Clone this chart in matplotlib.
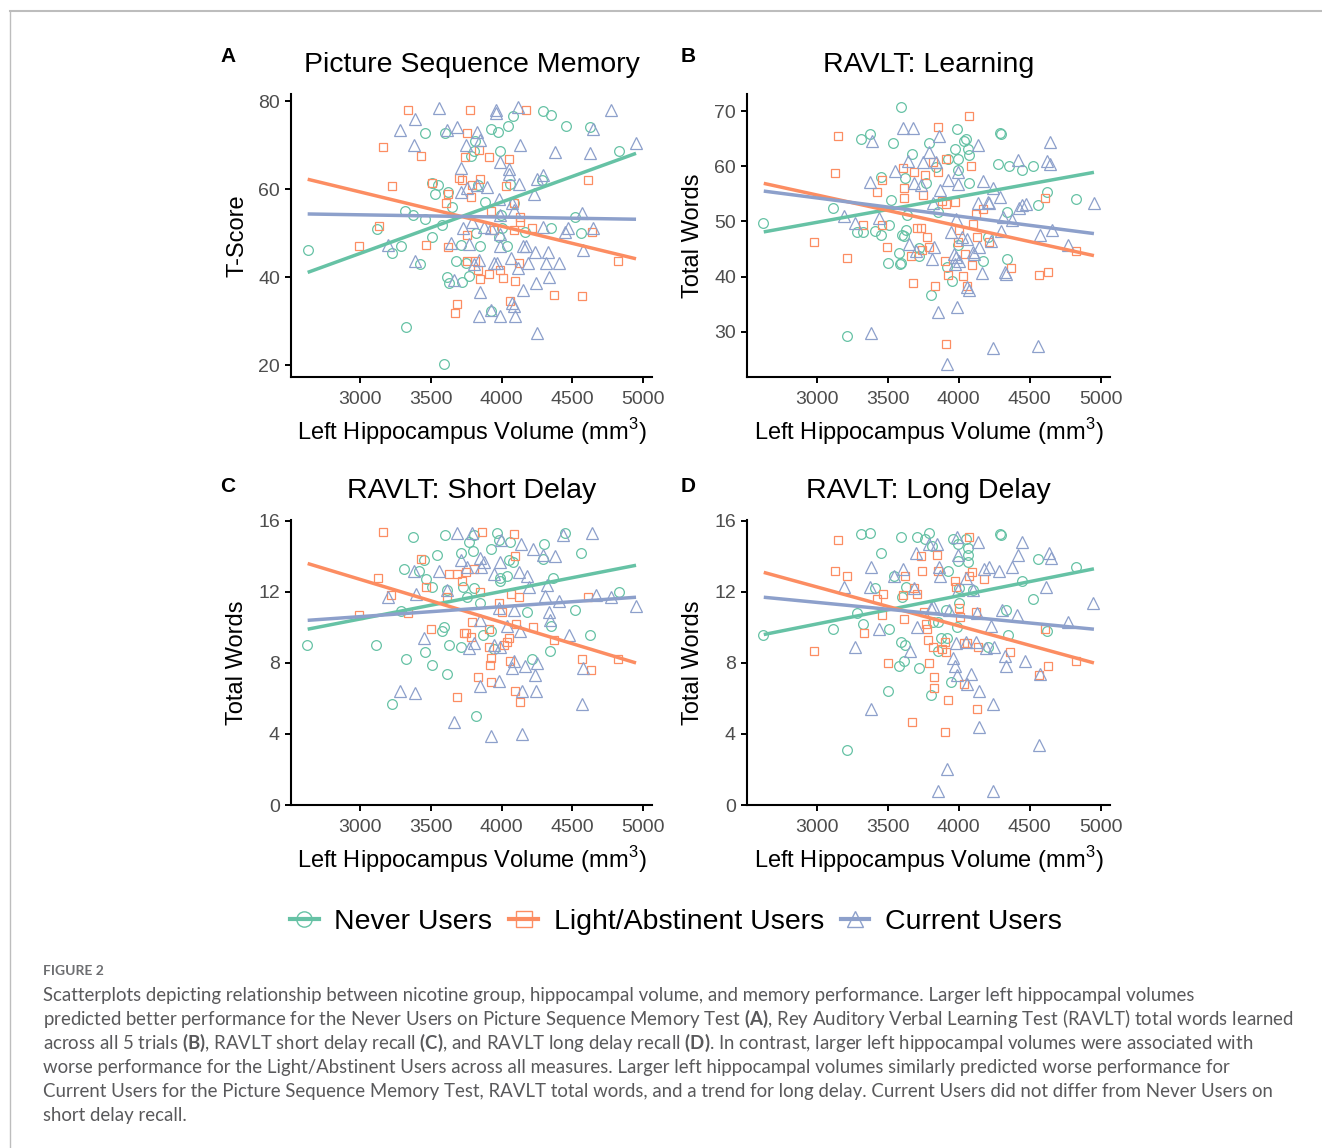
import matplotlib
matplotlib.use("Agg")
import matplotlib.pyplot as plt
from matplotlib.lines import Line2D

# ---- data: (left hippocampus volume, score) ----
A_NEVER = [(2631, 46.2), (3117, 50.9), (3225, 45.6), (3288, 47.0), (3316, 55.1), (3377, 54.1),
           (3424, 43.1), (3457, 72.9), (3457, 53.2), (3509, 49.2), (3511, 61.5), (3527, 59.0),
           (3551, 60.9), (3579, 51.9), (3598, 72.8), (3617, 40.0), (3628, 38.8), (3624, 59.4),
           (3652, 56.0), (3680, 43.8), (3710, 47.3), (3722, 38.9), (3746, 43.2), (3769, 40.2),
           (3781, 67.5), (3804, 68.7), (3809, 71.1), (3837, 60.9), (3851, 47.0), (3818, 50.0),
           (3884, 57.2), (3922, 73.7), (3922, 32.4), (3973, 73.0), (3980, 49.2), (3992, 68.7),
           (3997, 54.1), (4001, 51.3), (4039, 47.0), (4044, 74.5), (4062, 61.3), (4079, 76.8),
           (4086, 56.8), (4168, 50.4), (4297, 77.9), (4290, 62.2), (4349, 77.0), (4349, 51.1),
           (4454, 74.5), (4520, 53.8), (4560, 50.1), (4626, 74.1), (4830, 68.7), (3325, 28.7),
           (3593, 20.2)]
A_LIGHT = [(2988, 47.1), (3135, 51.7), (3159, 69.6), (3222, 60.7), (3340, 78.0), (3429, 67.7),
           (3469, 47.3), (3506, 61.5), (3621, 46.8), (3624, 59.0), (3609, 56.9), (3687, 33.9),
           (3668, 31.9), (3701, 62.6), (3722, 62.1), (3739, 67.3), (3755, 72.9), (3757, 49.6),
           (3757, 43.6), (3778, 78.1), (3781, 58.3), (3788, 60.9), (3809, 43.8), (3844, 69.0),
           (3851, 62.4), (3849, 39.6), (3837, 41.7), (3910, 67.3), (3910, 40.7), (3945, 50.7),
           (3926, 55.1), (3992, 41.7), (4011, 39.8), (4034, 60.8), (4051, 67.0), (4062, 34.7),
           (4086, 57.0), (4098, 39.1), (4121, 43.2), (4133, 53.8), (4133, 52.6), (4175, 78.1),
           (4215, 51.1), (4368, 36.0), (4569, 35.7), (4614, 62.1), (4637, 50.4), (4825, 43.7),
           (4086, 50.7)]
A_CURRENT = [(3199, 47.3), (3281, 73.5), (3382, 70.1), (3391, 76.0), (3391, 43.6), (3558, 78.6),
             (3617, 73.4), (3687, 74.3), (3710, 64.9), (3746, 70.0), (3828, 73.0), (3851, 71.3),
             (3710, 59.4), (3640, 47.7), (3663, 39.3), (3769, 47.6), (3804, 43.0), (3844, 44.0),
             (3846, 36.7), (3844, 31.1), (3922, 32.6), (3964, 78.0), (3964, 77.3), (3992, 31.1),
             (3992, 66.2), (4051, 64.7), (4051, 63.6), (4121, 61.3), (4116, 78.8), (4133, 70.1),
             (4093, 31.1), (4074, 34.2), (4086, 33.4), (4069, 44.3), (4116, 42.1), (4149, 37.2),
             (4154, 47.1), (4175, 47.1), (4184, 43.2), (4245, 38.8), (4238, 45.8), (4248, 27.4),
             (4250, 62.4), (4297, 63.2), (4227, 59.0), (4332, 45.8), (4339, 40.0), (4316, 43.2),
             (4297, 51.5), (4379, 68.6), (4410, 43.2), (4450, 50.4), (4473, 51.3), (4567, 54.7),
             (4579, 46.1), (4626, 68.2), (4649, 73.7), (4649, 51.1), (4778, 78.0), (4954, 70.5),
             (3992, 54.1), (3992, 49.8), (3969, 43.2), (3950, 43.2), (3987, 47.1), (3729, 51.3),
             (3793, 52.6), (3875, 51.5), (3922, 51.3), (3757, 60.4), (3828, 60.9), (3898, 60.5),
             (3980, 57.9), (4074, 56.8), (4086, 55.3)]

B_NEVER = [(2625, 49.8), (3113, 52.4), (3213, 29.2), (3281, 48.1), (3312, 64.9), (3324, 48.1),
           (3375, 65.8), (3413, 48.3), (3450, 58.1), (3453, 47.6), (3511, 49.4), (3523, 53.9),
           (3539, 64.2), (3577, 44.2), (3591, 42.4), (3593, 70.8), (3598, 47.5), (3617, 47.3),
           (3619, 57.8), (3626, 48.4), (3638, 51.1), (3671, 62.2), (3722, 45.2), (3718, 43.8),
           (3769, 57.0), (3793, 64.2), (3804, 36.6), (3840, 59.8), (3854, 51.7), (3915, 41.7),
           (3922, 61.3), (3950, 39.2), (3971, 63.1), (3990, 66.7), (3992, 61.3), (3997, 59.3),
           (3997, 45.8), (4039, 64.6), (4051, 64.9), (4069, 63.1), (4074, 62.0), (4074, 57.0),
           (4168, 42.8), (4203, 47.1), (4278, 60.4), (4292, 66.1), (4299, 65.8), (4339, 51.7),
           (4339, 43.2), (4351, 60.1), (4449, 59.3), (4520, 60.1), (4557, 53.0), (4620, 55.4),
           (4824, 54.0), (3504, 42.5), (3589, 42.3)]
B_LIGHT = [(2984, 46.2), (3129, 58.7), (3152, 65.4), (3213, 43.4), (3328, 49.3), (3422, 55.4),
           (3460, 57.5), (3460, 49.4), (3497, 45.4), (3605, 59.6), (3612, 54.3), (3617, 56.1),
           (3664, 43.8), (3675, 38.8), (3685, 59.0), (3704, 48.9), (3734, 48.9), (3741, 44.8),
           (3750, 54.8), (3762, 58.5), (3774, 47.1), (3790, 45.3), (3816, 60.7), (3835, 38.3),
           (3851, 58.9), (3856, 67.1), (3882, 53.7), (3903, 42.9), (3910, 61.4), (3910, 53.1),
           (3910, 27.8), (3922, 40.2), (3976, 53.6), (4004, 48.4), (3997, 46.2), (4027, 40.1),
           (4046, 44.1), (4062, 38.3), (4074, 69.1), (4090, 60.1), (4093, 42.1), (4098, 49.5),
           (4126, 47.1), (4121, 51.4), (4168, 52.2), (4215, 46.2), (4367, 41.5), (4564, 40.2),
           (4606, 54.2), (4630, 40.8), (4824, 44.7)]
B_CURRENT = [(3195, 51.0), (3272, 49.8), (3378, 57.2), (3389, 64.6), (3385, 29.7), (3436, 50.6),
             (3551, 59.2), (3605, 67.0), (3640, 61.0), (3680, 67.0), (3652, 45.9), (3687, 57.0),
             (3699, 44.7), (3734, 56.6), (3750, 60.7), (3793, 62.6), (3809, 43.2), (3816, 53.4),
             (3828, 45.3), (3840, 60.7), (3851, 33.6), (3863, 65.5), (3870, 55.7), (3926, 57.6),
             (3945, 48.0), (3964, 44.1), (3980, 43.5), (3985, 34.5), (3992, 58.9), (3992, 56.7),
             (3980, 50.4), (3917, 24.2), (3976, 42.3), (4004, 42.9), (4023, 47.1), (4062, 46.8),
             (4062, 38.1), (4074, 37.5), (4098, 44.4), (4109, 44.1), (4133, 63.9), (4133, 53.3),
             (4144, 45.3), (4168, 57.3), (4163, 40.6), (4203, 53.6), (4215, 53.3), (4226, 46.5),
             (4238, 56.1), (4243, 27.1), (4290, 54.5), (4299, 48.3), (4313, 50.8), (4325, 40.8),
             (4332, 40.4), (4372, 50.2), (4414, 61.1), (4421, 52.5), (4449, 53.0), (4473, 53.1),
             (4557, 27.4), (4574, 47.6), (4625, 61.0), (4642, 64.4), (4644, 60.5), (4660, 48.4),
             (4770, 45.8), (4949, 53.3)]

C_NEVER = [(2626, 9.0), (3112, 9.0), (3222, 5.7), (3288, 10.9), (3311, 13.3), (3325, 8.2),
           (3375, 15.1), (3417, 13.2), (3452, 13.8), (3457, 8.6), (3464, 12.7), (3511, 12.3),
           (3509, 7.9), (3546, 14.1), (3579, 9.8), (3593, 10.05), (3598, 15.2), (3617, 7.4),
           (3628, 9.0), (3617, 12.1), (3715, 8.9), (3710, 14.2), (3729, 12.3), (3757, 11.7),
           (3769, 14.8), (3804, 15.2), (3800, 14.3), (3816, 5.0), (3804, 12.2), (3851, 11.4),
           (3922, 9.8), (3929, 14.4), (3969, 15.3), (3992, 12.8), (3980, 14.9), (3992, 12.6),
           (4039, 12.9), (4062, 14.8), (4079, 13.7), (4051, 13.8), (4180, 10.85), (4215, 8.2),
           (4302, 14.7), (4297, 13.85), (4344, 8.7), (4349, 10.1), (4361, 12.8), (4450, 15.3),
           (4520, 11.0), (4560, 14.2), (4626, 9.6), (4830, 12.0), (3950, 8.8), (3870, 9.6)]
C_LIGHT = [(2988, 10.7), (3128, 12.8), (3159, 15.4), (3218, 11.8), (3340, 10.8), (3429, 13.85),
           (3464, 12.3), (3504, 9.9), (3617, 11.7), (3628, 13.0), (3687, 13.0), (3682, 6.1),
           (3722, 12.6), (3746, 13.1), (3731, 9.7), (3750, 9.7), (3781, 9.45), (3788, 10.3),
           (3804, 13.3), (3832, 7.2), (3851, 12.0), (3861, 15.4), (3910, 9.9), (3910, 8.9),
           (3917, 7.9), (3926, 8.3), (3926, 6.9), (3980, 11.4), (4004, 10.85), (4020, 9.0),
           (4039, 9.2), (4051, 9.4), (4062, 8.1), (4067, 11.9), (4086, 15.25), (4100, 10.2),
           (4098, 14.0), (4098, 6.4), (4121, 11.7), (4133, 5.8), (4222, 10.05), (4368, 9.3),
           (4572, 8.2), (4614, 11.7), (4633, 7.6), (4825, 8.2)]
C_CURRENT = [(3199, 11.7), (3279, 6.4), (3389, 6.3), (3394, 11.9), (3382, 13.2), (3448, 9.4),
             (3556, 13.2), (3617, 12.1), (3663, 4.7), (3687, 15.3), (3710, 13.8), (3757, 13.4),
             (3769, 8.85), (3793, 15.3), (3804, 9.1), (3851, 13.9), (3858, 13.4), (3851, 6.7),
             (3875, 13.7), (3922, 3.9), (3945, 13.0), (3950, 9.0), (3980, 7.0), (3992, 13.7),
             (3992, 8.9), (3999, 14.9), (4074, 7.7), (4086, 8.1), (4121, 13.1), (4140, 14.7),
             (4145, 6.4), (4168, 7.8), (4180, 12.9), (4191, 12.3), (4220, 14.4), (4238, 7.3),
             (4245, 6.4), (4250, 8.0), (4297, 14.1), (4309, 11.75), (4321, 12.4), (4337, 10.85),
             (4344, 10.4), (4379, 14.0), (4410, 11.5), (4433, 15.2), (4475, 9.6), (4567, 5.7),
             (4574, 7.7), (4637, 15.3), (4668, 11.8), (4778, 11.7), (4954, 11.2), (4142, 4.0),
             (3846, 10.4), (4039, 10.1), (4133, 9.8), (3980, 11.1), (4086, 11.0)]

D_NEVER = [(2625, 9.6), (3113, 9.9), (3213, 3.1), (3281, 10.8), (3312, 15.25), (3324, 10.2),
           (3375, 15.3), (3413, 12.2), (3453, 14.2), (3504, 6.4), (3507, 9.9), (3542, 12.9),
           (3577, 7.8), (3593, 15.1), (3598, 11.7), (3591, 9.2), (3612, 8.1), (3621, 9.0),
           (3629, 12.3), (3704, 15.1), (3718, 7.7), (3760, 15.0), (3793, 15.3), (3804, 6.2),
           (3809, 14.6), (3821, 10.3), (3854, 10.3), (3875, 9.4), (3915, 9.4), (3926, 13.2),
           (3945, 6.9), (3957, 15.0), (3985, 10.0), (3992, 14.7), (3992, 13.75), (4004, 12.2),
           (3999, 11.4), (4051, 15.0), (4069, 14.5), (4069, 14.1), (4069, 13.7), (4098, 12.1),
           (4203, 8.9), (4294, 15.25), (4297, 15.2), (4332, 11.0), (4344, 9.6), (4449, 12.6),
           (4520, 11.6), (4557, 13.85), (4620, 9.8), (4824, 13.4), (3851, 8.7), (3910, 11.0)]
D_LIGHT = [(2984, 8.7), (3129, 13.2), (3152, 14.9), (3213, 12.9), (3331, 9.7), (3422, 11.6),
           (3460, 10.7), (3469, 11.9), (3500, 8.0), (3605, 11.8), (3612, 10.5), (3624, 12.9),
           (3673, 4.7), (3685, 12.2), (3706, 11.9), (3734, 14.0), (3743, 13.2), (3757, 10.85),
           (3769, 10.2), (3774, 9.9), (3781, 9.3), (3788, 8.0), (3816, 8.9), (3823, 7.2),
           (3825, 6.6), (3847, 14.1), (3851, 13.2), (3886, 8.8), (3905, 9.2), (3910, 8.6),
           (3905, 4.1), (3922, 5.9), (3976, 12.6), (3980, 12.3), (3999, 11.1), (4011, 10.6),
           (4034, 6.8), (4039, 9.1), (4062, 9.1), (4074, 12.9), (4074, 15.1), (4093, 13.1),
           (4121, 10.85), (4126, 5.4), (4133, 8.9), (4175, 12.7), (4362, 8.6), (4562, 7.3),
           (4609, 9.9), (4630, 7.8), (4824, 8.1)]
D_CURRENT = [(3195, 12.3), (3272, 8.9), (3378, 12.3), (3385, 13.4), (3385, 5.4), (3436, 9.9),
             (3546, 12.9), (3605, 13.3), (3657, 8.7), (3687, 12.2), (3699, 14.2), (3704, 10.0),
             (3788, 14.7), (3804, 11.1), (3816, 11.2), (3844, 14.7), (3915, 2.0), (3851, 0.8),
             (3863, 13.4), (3870, 12.9), (3933, 11.0), (3957, 8.3), (3976, 7.8), (3985, 15.1),
             (3985, 7.3), (3992, 14.1), (3992, 12.1), (4051, 12.8), (4062, 6.8), (4086, 7.4),
             (4098, 12.1), (4126, 10.8), (4133, 14.8), (4140, 6.4), (4140, 4.4), (4175, 13.3),
             (4215, 13.4), (4226, 10.1), (4238, 5.7), (4243, 0.8), (4250, 8.9), (4285, 13.2),
             (4302, 11.0), (4325, 8.4), (4332, 7.8), (4374, 13.4), (4407, 10.7), (4414, 14.1),
             (4445, 14.8), (4468, 8.1), (4562, 3.4), (4574, 7.4), (4613, 12.3), (4637, 14.2),
             (4649, 13.9), (4770, 10.3), (4946, 11.4), (3980, 9.1), (4051, 9.2), (4121, 9.2),
             (4191, 8.85)]

# fitted lines: value at the left and right end of FIT_X (never, light, current)
FIT_X = [2628, 4952]
A_FITS = [(41.1, 68.2), (62.3, 44.2), (54.4, 53.2)]
B_FITS = [(48.1, 58.9), (56.9, 43.8), (55.5, 47.8)]
C_FITS = [(9.9, 13.5), (13.6, 8.0), (10.4, 11.7)]
D_FITS = [(9.6, 13.3), (13.1, 8.0), (11.7, 9.9)]

GROUPS = ["Never Users", "Light/Abstinent Users", "Current Users"]
COLORS = ["#66C2A5", "#FC8D62", "#8DA0CB"]
MARKERS = ["o", "s", "^"]
MSIZES = [7.0, 6.0, 8.2]

X_TICKS = [3000, 3500, 4000, 4500, 5000]

panels = [
    ("A", "Picture Sequence Memory", "T-Score", [A_NEVER, A_LIGHT, A_CURRENT], A_FITS,
     (17.3, 81.7), [20, 40, 60, 80], [291, 94, 652, 377]),
    ("B", "RAVLT: Learning", "Total Words", [B_NEVER, B_LIGHT, B_CURRENT], B_FITS,
     (21.8, 73.1), [30, 40, 50, 60, 70], [747, 94, 1110, 377]),
    ("C", "RAVLT: Short Delay", "Total Words", [C_NEVER, C_LIGHT, C_CURRENT], C_FITS,
     (0, 16.05), [0, 4, 8, 12, 16], [291, 520, 652, 805]),
    ("D", "RAVLT: Long Delay", "Total Words", [D_NEVER, D_LIGHT, D_CURRENT], D_FITS,
     (0, 16.05), [0, 4, 8, 12, 16], [747, 520, 1110, 805]),
]

plt.rcParams["font.family"] = ["Liberation Sans", "DejaVu Sans"]
plt.rcParams["mathtext.fontset"] = "custom"
plt.rcParams["mathtext.rm"] = "Liberation Sans"
plt.rcParams["mathtext.bf"] = "Lato:bold"

W, H = 1322, 1148
fig = plt.figure(figsize=(W / 100, H / 100), dpi=100)

for letter, title, ylabel, groups, fits, ylim, yticks, box in panels:
    l, t, r, b = box
    ax = fig.add_axes([l / W, 1 - b / H, (r - l) / W, (b - t) / H])
    for pts, c, m, ms in zip(groups, COLORS, MARKERS, MSIZES):
        xs = [p[0] for p in pts]
        ys = [p[1] for p in pts]
        ax.plot(xs, ys, linestyle="none", marker=m, markersize=ms, markerfacecolor="none",
                markeredgecolor=c, markeredgewidth=0.9, clip_on=False, zorder=2)
    for f, c in zip(fits, COLORS):
        ax.plot(FIT_X, f, color=c, lw=2.5, solid_capstyle="butt", zorder=3)
    ax.set_xlim(2510, 5065)
    ax.set_ylim(*ylim)
    ax.set_xticks(X_TICKS)
    ax.set_yticks(yticks)
    for s in ("top", "right"):
        ax.spines[s].set_visible(False)
    for s in ("left", "bottom"):
        ax.spines[s].set_linewidth(1.5)
    ax.tick_params(length=4, width=1.4, pad=4, labelsize=14, labelcolor="#4d4d4d")
    ax.tick_params(axis="x", pad=6)
    ax.set_title(title, fontsize=20.5, pad=16)
    ax.set_xlabel(r"Left Hippocampus Volume (mm$^3$)", fontsize=17, labelpad=6)
    ax.set_ylabel(ylabel, fontsize=17, labelpad=7)
    ax.patch.set_alpha(0)
    lx = 228 if letter in "AC" else 688
    ly = 56 if letter in "AB" else 486
    fig.text(lx / W, 1 - ly / H, letter, fontsize=15, fontweight="bold", ha="center", va="center")

handles = [Line2D([], [], color=c, lw=3, marker=m, markersize=11, markerfacecolor="none",
                  markeredgecolor=c, markeredgewidth=1.0)
           for c, m in zip(COLORS, MARKERS)]
fig.legend(handles, GROUPS, loc="center", bbox_to_anchor=(676 / W, 1 - 922 / H), ncol=3,
           frameon=False, fontsize=20.5, handlelength=1.0, handletextpad=0.55,
           columnspacing=0.6)

# page border
fig.add_artist(Line2D([10 / W, 1], [1 - 11 / H, 1 - 11 / H], color="#bdbdbd", lw=1.5))
fig.add_artist(Line2D([10 / W, 10 / W], [1 - 11 / H, 0], color="#bdbdbd", lw=1.0))

# caption
cap_color = "#59595b"
fig.text(43 / W, 1 - 971 / H, "FIGURE 2", fontsize=10, color="#6d6e71", fontweight="bold",
         family="Lato", va="center")
caption = [
    "Scatterplots depicting relationship between nicotine group, hippocampal volume, and memory performance. Larger left hippocampal volumes",
    r"predicted better performance for the Never Users on Picture Sequence Memory Test $\mathbf{(A)}$, Rey Auditory Verbal Learning Test (RAVLT) total words learned",
    r"across all 5 trials $\mathbf{(B)}$, RAVLT short delay recall $\mathbf{(C)}$, and RAVLT long delay recall $\mathbf{(D)}$. In contrast, larger left hippocampal volumes were associated with",
    "worse performance for the Light/Abstinent Users across all measures. Larger left hippocampal volumes similarly predicted worse performance for",
    "Current Users for the Picture Sequence Memory Test, RAVLT total words, and a trend for long delay. Current Users did not differ from Never Users on",
    "short delay recall.",
]
for i, line in enumerate(caption):
    fig.text(43 / W, 1 - (995 + 24 * i) / H, line, fontsize=13.45, color=cap_color,
             family="Lato", va="center")

fig.savefig("out.png", dpi=100)
